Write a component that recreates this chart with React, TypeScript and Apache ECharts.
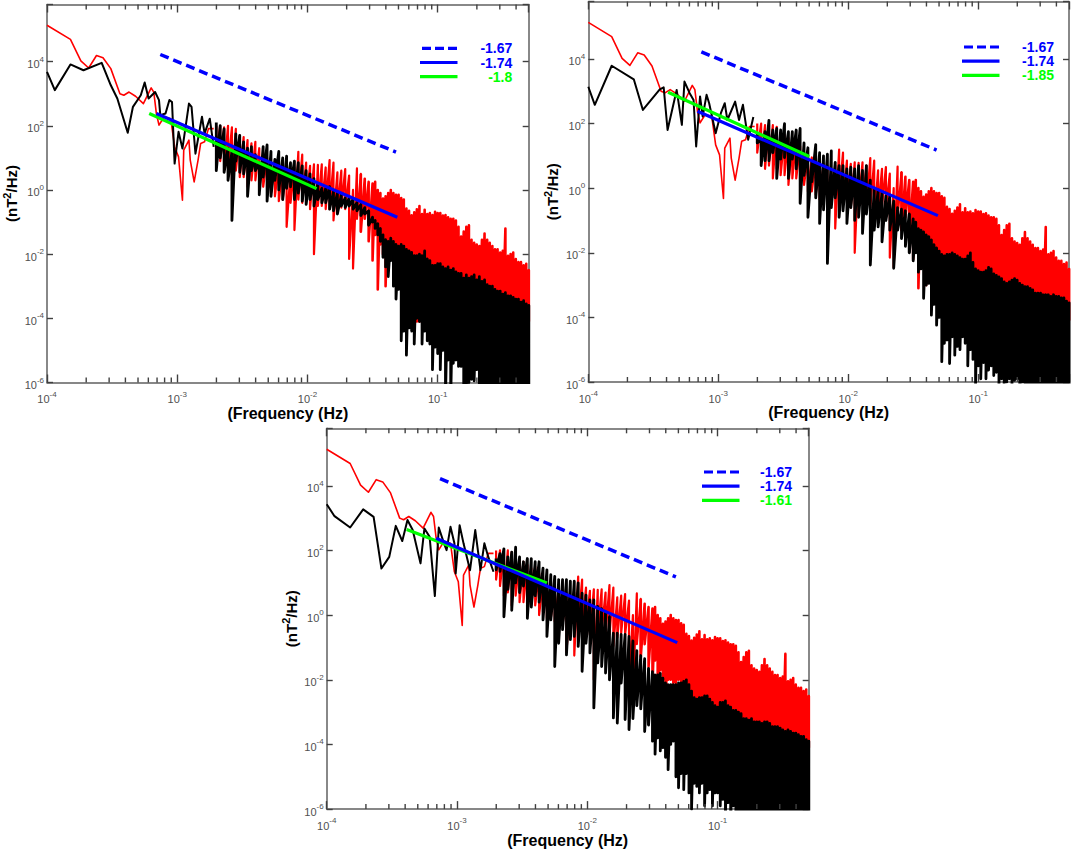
import React, { useEffect, useRef } from 'react';
import * as echarts from 'echarts';

// all spectrum values are log10: log10(Hz) and log10(nT^2/Hz)
const redLowF = [-4, -3.82, -3.74, -3.68, -3.62, -3.57, -3.51, -3.44, -3.41, -3.37, -3.32, -3.26, -3.2, -3.18, -3.16, -3.14, -3.1, -3.05, -3.02, -2.99, -2.96, -2.95, -2.91, -2.9, -2.87, -2.84, -2.82, -2.79, -2.76, -2.72];
const redLowP = [5.13, 4.69, 4.02, 3.8, 4.19, 4.12, 3.78, 3.0, 2.95, 3.05, 2.92, 2.69, 3.18, 3.05, 2.38, 2.02, 2.28, 2.22, 1.34, 1.03, -0.32, 1.24, 1.55, 0.93, 0.25, 0.93, 1.45, 1.5, 1.91, 1.91];

const blackLowF1 = [-4, -3.94, -3.82, -3.72, -3.58, -3.51, -3.46, -3.38, -3.34, -3.28, -3.25, -3.22, -3.17, -3.14, -3.13, -3.09, -3.06, -3.04, -3.02, -2.99, -2.96, -2.91, -2.89, -2.86, -2.81, -2.79, -2.75, -2.72];
const blackLowP1 = [3.68, 3.11, 3.91, 3.73, 3.96, 3.26, 2.85, 1.78, 2.59, 2.95, 3.35, 2.85, 3.05, 2.8, 2.33, 2.38, 2.8, 2.74, 0.82, 1.81, 1.29, 2.69, 2.59, 1.13, 2.28, 1.76, 2.22, 1.34];
const blackLowF2 = [-4, -3.95, -3.82, -3.65, -3.58, -3.45, -3.42, -3.39, -3.32, -3.28, -3.26, -3.22, -3.19, -3.17, -3.14, -3.12, -3.09, -3.07, -3.02, -2.98, -2.95, -2.93, -2.87, -2.84, -2.81, -2.77, -2.73];
const blackLowP2 = [3.14, 2.58, 3.79, 3.37, 2.42, 3.06, 3.12, 1.8, 3.04, 1.96, 3.3, 2.94, 2.73, 1.29, 2.84, 2.22, 2.89, 2.63, 1.7, 2.32, 2.63, 2.11, 2.68, 2.11, 2.58, 1.5, 2.2];
const blackLowF3 = [-4, -3.94, -3.82, -3.72, -3.64, -3.58, -3.52, -3.47, -3.42, -3.38, -3.34, -3.28, -3.25, -3.21, -3.17, -3.14, -3.1, -3.08, -3.05, -3.02, -3.01, -2.98, -2.95, -2.9, -2.86, -2.82, -2.79, -2.76, -2.72];
const blackLowP3 = [3.43, 3.06, 2.71, 3.27, 3.04, 1.44, 1.8, 2.76, 2.29, 2.94, 2.63, 1.6, 2.68, 2.42, 0.59, 2.71, 2.22, 2.01, 2.73, 2.22, 1.29, 2.78, 2.22, 1.39, 2.63, 1.39, 2.22, 1.8, 1.34];

// frequency columns of the dense part of the spectra
const denseF = [
  -2.7, -2.67, -2.64, -2.61, -2.58, -2.55, -2.52, -2.49, -2.46, -2.43, -2.4, -2.37, -2.34, -2.31, -2.28, -2.25, -2.22, -2.19, -2.16, -2.13,
  -2.1, -2.07, -2.04, -2.01, -1.98, -1.95, -1.92, -1.89, -1.86, -1.83, -1.8, -1.77, -1.74, -1.71, -1.68, -1.65, -1.62, -1.59, -1.56, -1.53,
  -1.5, -1.48, -1.46, -1.44, -1.42, -1.4, -1.38, -1.36, -1.34, -1.32, -1.3, -1.28, -1.26, -1.24, -1.22, -1.2, -1.18, -1.16, -1.14, -1.12,
  -1.1, -1.08, -1.06, -1.04, -1.02, -1, -0.98, -0.96, -0.94, -0.92, -0.9, -0.88, -0.86, -0.84, -0.82, -0.8, -0.78, -0.76, -0.74, -0.72,
  -0.7, -0.68, -0.66, -0.64, -0.62, -0.6, -0.58, -0.56, -0.54, -0.52, -0.5, -0.48, -0.46, -0.44, -0.42, -0.4, -0.38, -0.36, -0.34, -0.32, -0.3,
];

const redTop = [
  2.0, 2.0, 1.95, 2.0, 1.95, 1.9, 1.7, 1.65, 1.55, 1.45, 1.5, 1.3, 1.1, 1.0, 0.95, 0.9, 0.8, 0.75, 0.7, 0.55,
  0.7, 1.19, 1.1, 0.85, 0.75, 0.8, 0.78, 0.8, 0.7, 0.93, 0.85, 0.55, 0.6, 0.65, 0.45, 0.0, 0.67, 0.5, 0.35, 0.25,
  0.2, 0.25, 0.0, -0.1, -0.27, -0.2, -0.1, 0.0, -0.1, -0.15, -0.15, -0.25, -0.3, -0.58, -0.65, -0.79, -0.7, -0.6, -0.5, -0.75,
  -0.62, -0.75, -0.72, -0.78, -0.68, -0.72, -0.72, -0.8, -0.78, -0.85, -0.9, -0.9, -0.95, -1.15, -1.45, -1.3, -1.15, -1.1, -1.55, -1.65,
  -1.7, -1.75, -1.55, -1.36, -1.55, -1.65, -1.75, -1.85, -1.85, -1.95, -1.9, -1.2, -2.05, -2.0, -1.95, -2.15, -2.25, -2.25, -2.35, -2.3, -2.5,
];
// beyond this list the lower edge of the red trace is hidden behind the black one
const redBottom = [
  1.1, 0.9, 0.6, 0.7, 0.3, 0.6, 0.4, 0.4, 0.1, 0.3, 0.3, 0.0, 0.1, -0.1, -0.1, -0.2, -0.35, -0.3, -1.15, -0.4,
  -1.25, -0.3, -0.4, -0.3, -0.6, -2.0, -0.5, -0.5, -0.6, -0.6, -0.95, -0.7, -0.55, -0.6, -2.15, -2.45, -0.9, -1.3, -0.9, -1.6,
  -2.2, -1.4, -3.1, -1.7, -2.0, -3.0, -2.0, -2.0, -2.1, -2.1, -2.0, -2.2, -2.4,
];
const redHidden = -4.1;

const blackTop1 = [
  2.1, 2.0, 1.9, 1.3, 1.2, 1.75, 1.7, 1.5, 1.3, 1.35, 1.1, 0.85, 1.35, 1.4, 1.2, 0.95, 1.2, 1.0, 1.05, 0.85,
  0.9, 0.85, 0.75, 0.6, 0.5, 0.35, 0.2, 0.05, 0.05, 0.1, -0.05, -0.1, -0.15, -0.25, -0.25, -0.3, -0.4, -0.45, -0.55, -0.65,
  -0.85, -0.95, -1.05, -1.2, -1.4, -1.55, -1.6, -1.5, -1.6, -1.7, -1.75, -1.7, -1.75, -1.85, -1.9, -1.95, -2.05, -2.05, -2.0, -2.05,
  -1.9, -2.15, -2.2, -2.35, -2.35, -2.3, -2.3, -2.4, -2.45, -2.4, -2.5, -2.45, -2.55, -2.6, -2.6, -2.75, -2.65, -2.75, -2.7, -2.65,
  -2.8, -2.7, -2.85, -2.8, -2.95, -3.0, -3.0, -3.1, -3.15, -3.15, -3.25, -3.2, -3.3, -3.3, -3.35, -3.4, -3.4, -3.5, -3.45, -3.55, -3.6,
];
const blackBottom1 = [
  0.6, 1.0, 0.55, 0.3, -0.95, 0.9, 0.55, 0.5, -0.2, 0.6, 0.6, -0.15, 0.4, -0.35, -0.2, 0.3, 0.0, -0.3, 0.05, 0.1,
  -0.3, -0.1, -0.35, -0.45, -0.3, -0.5, -0.3, -0.4, -0.4, -0.6, -0.65, -0.75, -0.5, -0.55, -0.5, -0.6, -0.65, -0.8, -0.75, -1.1,
  -1.0, -1.2, -1.4, -1.6, -2.1, -2.4, -2.7, -2.2, -3.0, -3.4, -3.1, -4.7, -4.4, -5.15, -4.3, -4.4, -4.8, -4.0, -4.1, -4.8,
  -4.4, -4.7, -4.8, -5.6, -4.9, -5.1, -5.6, -5.0, -6.5, -5.3, -6.5, -5.4, -5.3, -5.5, -5.5, -6.1, -6.2, -6.0, -5.9, -5.95,
  -5.6, -6.1,
];

const blackTop2 = [
  1.7, 1.5, 1.75, 2.1, 1.8, 1.85, 1.8, 2.0, 1.75, 1.75, 1.8, 1.85, 1.4, 1.25, 0.8, 1.35, 1.1, 1.0, 1.05, 1.15,
  0.8, 0.7, 0.7, 0.6, 0.65, 0.6, 0.7, 0.55, 0.7, 0.25, 0.0, -0.05, -0.15, -0.25, -0.25, -0.4, -0.6, -0.65, -0.7, -0.8,
  -0.95, -1.05, -1.25, -1.3, -1.35, -1.45, -1.5, -1.6, -1.75, -1.85, -1.95, -2.05, -2.1, -2.05, -2.05, -2.0, -2.05, -2.1, -2.15, -2.2,
  -2.2, -2.1, -2.0, -2.3, -2.5, -2.55, -2.6, -2.6, -2.55, -2.45, -2.5, -2.65, -2.7, -2.75, -2.8, -2.9, -2.95, -2.9, -2.85, -2.8,
  -2.85, -2.95, -3.0, -3.05, -3.05, -3.1, -3.15, -3.25, -3.25, -3.25, -3.3, -3.3, -3.3, -3.35, -3.3, -3.35, -3.35, -3.4, -3.4, -3.5, -3.55,
];
const blackBottom2 = [
  1.4, 0.7, 0.85, 0.85, 1.1, 0.3, 0.9, 0.95, 0.3, 0.9, 0.6, -0.47, 0.4, -0.9, 0.2, -0.3, -1.09, -0.67, -2.33, -0.6,
  -0.3, -0.9, -0.7, -1.09, -0.6, -1.0, -0.9, -1.4, -0.8, -2.38, -1.3, -1.2, -1.66, -1.0, -1.3, -2.48, -1.3, -1.56, -1.8, -2.0,
  -2.25, -2.0, -2.6, -2.5, -3.41, -3.0, -2.95, -3.93, -3.6, -4.24, -4.0, -5.37, -4.8, -4.7, -5.43, -4.6, -5.17, -4.9, -5.0, -4.6,
  -4.8, -5.5, -5.0, -5.3, -6.05, -5.5, -5.9, -5.4, -5.9, -5.63, -5.5, -5.8, -5.7, -6.1, -5.9, -6.1, -6.0, -5.9, -6.1, -5.95,
  -5.9, -6.5, -6.0,
];

const blackTop3 = [
  1.75, 1.9, 2.05, 1.8, 1.95, 2.1, 1.8, 1.65, 1.75, 1.75, 1.65, 1.65, 1.45, 1.4, 1.25, 1.2, 1.1, 1.1, 1.1, 1.05,
  1.05, 1.0, 0.68, 0.62, 0.47, 0.47, 0.27, 0.2, 0.1, -0.05, -0.56, -0.56, -0.6, -0.6, -0.66, -0.8, -1.1, -1.25, -1.35, -1.65,
  -1.75, -1.85, -1.85, -1.8, -1.95, -2.1, -2.15, -2.15, -2.15, -2.15, -2.1, -2.1, -2.05, -2.0, -2.15, -2.35, -2.55, -2.6, -2.55, -2.55,
  -2.5, -2.5, -2.6, -2.7, -2.8, -2.85, -2.7, -2.7, -2.65, -2.8, -2.85, -2.95, -2.95, -3.0, -3.05, -3.2, -3.2, -3.25, -3.2, -3.3,
  -3.3, -3.3, -3.35, -3.3, -3.3, -3.35, -3.45, -3.45, -3.45, -3.5, -3.55, -3.6, -3.55, -3.6, -3.65, -3.65, -3.7, -3.75, -3.75, -3.85, -3.9,
];
const blackBottom3 = [
  1.4, 1.35, -0.05, 0.8, 0.15, 1.0, 0.7, 0.9, -0.1, 0.25, 0.6, 0.4, -0.15, -0.66, -0.15, -1.59, -0.87, -0.45, -1.23, -0.76,
  -0.66, -0.97, -1.74, -0.87, -1.17, -2.87, -1.48, -1.59, -1.79, -2.0, -3.18, -3.34, -2.1, -3.23, -3.54, -3.2, -2.8, -2.9, -3.6, -3.4,
  -3.9, -4.3, -3.8, -4.2, -4.1, -4.4, -4.78, -4.0, -3.9, -5.0, -5.34, -4.9, -5.4, -4.9, -5.5, -6.0, -5.2, -5.3, -5.5, -5.2,
  -5.9, -5.5, -5.4, -5.9, -5.5, -5.5, -5.9, -5.7, -6.2, -5.8, -6.5, -5.9, -6.5, -6.1,
];
const blackFloor = -6.5; // below the axis, so the trace runs off the plot

// fitted lines: [log10 f, log10 P]
const dashedFit = [[-3.13, 4.22], [-1.32, 1.18]];
const blueFit = [[-3.16, 2.38], [-1.31, -0.85]];
const greenFit1 = [[-3.215, 2.38], [-1.93, 0.04]];
const greenFit2 = [[-3.386, 2.97], [-2.3, 0.98]];
const greenFit3 = [[-3.386, 2.65], [-2.31, 0.99]];

const slopeBlueDash = '-1.67';
const slopeBlue = '-1.74';
const slopeGreen = ['-1.8', '-1.85', '-1.61'];

const majorTicksX = [1e-4, 1e-3, 1e-2, 1e-1];
const minorTickFactors = [2, 3, 4, 5, 6, 7, 8, 9];

const panels = [
  { left: 46.7, top: 4.5, width: 482, height: 378, legendX: 420, legendY: 48.3, textX: 512.3, lowF: blackLowF1, lowP: blackLowP1, top_: blackTop1, bottom: blackBottom1, green: greenFit1, greenOnTop: false },
  { left: 588.3, top: 1.5, width: 482.5, height: 380.5, legendX: 962, legendY: 47, textX: 1054, lowF: blackLowF2, lowP: blackLowP2, top_: blackTop2, bottom: blackBottom2, green: greenFit2, greenOnTop: true },
  { left: 326.7, top: 428.3, width: 482, height: 381.7, legendX: 702, legendY: 472, textX: 792, lowF: blackLowF3, lowP: blackLowP3, top_: blackTop3, bottom: blackBottom3, green: greenFit3, greenOnTop: false },
];

const RED = '#ff0000';
const BLUE = '#0000ff';
const GREEN = '#00ff00';
const AXIS = '#404040';
const FONT = '"Liberation Sans", Arial, sans-serif';

const toPts = (f: number[], p: number[]) => f.map((v, i) => [10 ** v, 10 ** p[i]]);
const fitPts = (line: number[][]) => line.map(([f, p]) => [10 ** f, 10 ** p]);

// zigzags top-bottom through the columns so one line paints the whole band
const denseLine = (top: number[], bottom: number[], floor: number, from: number, to: number) => {
  const pts: number[][] = [];
  for (let i = from; i < to; i++) {
    pts.push([10 ** denseF[i], 10 ** top[i]]);
    pts.push([10 ** denseF[i], 10 ** (bottom[i] ?? floor)]);
  }
  return pts;
};

const expLabel = (value: number) => {
  const e = Math.log10(value);
  if (Math.abs(e - Math.round(e)) > 1e-6) return '';
  return `{b|10}{s|${Math.round(e)}}`;
};

const labelRich = {
  b: { fontSize: 11, fontFamily: FONT, color: '#505050', padding: [5, 0, 0, 0] },
  s: { fontSize: 8, fontFamily: FONT, color: '#505050', padding: [0, 0, 5, 0] },
};

const minorTicks: number[] = [];
majorTicksX.forEach((d) => {
  minorTickFactors.forEach((m) => {
    if (d * m < 0.5) minorTicks.push(d * m);
  });
});

const buildOption = () => {
  const grid: any[] = [];
  const xAxis: any[] = [];
  const yAxis: any[] = [];
  const series: any[] = [];
  const graphic: any[] = [];

  panels.forEach((p, n) => {
    const xBottom = n * 2;
    const yLeft = n * 2;
    grid.push({ left: p.left, top: p.top, width: p.width, height: p.height, containLabel: false });

    const xBase = {
      type: 'log',
      logBase: 10,
      min: 1e-4,
      max: 0.5,
      gridIndex: n,
      axisLine: { show: true, onZero: false, lineStyle: { color: '#606060', width: 1.5 } },
      axisTick: { show: true, inside: true, length: 8, lineStyle: { color: AXIS, width: 1.4 } },
      splitLine: { show: false },
      minorTick: { show: false },
      minorSplitLine: { show: false },
    };
    xAxis.push({
      ...xBase,
      position: 'bottom',
      name: '(Frequency (Hz)',
      nameLocation: 'middle',
      nameGap: 20,
      nameTextStyle: { fontFamily: FONT, fontSize: 16, fontWeight: 'bold', color: '#000' },
      axisLabel: { show: true, margin: 6, formatter: expLabel, rich: labelRich, hideOverlap: false, showMinLabel: true },
    });
    xAxis.push({ ...xBase, position: 'top', axisLabel: { show: false } });

    const yBase = {
      type: 'log',
      logBase: 10,
      min: 1e-6,
      max: 6e5,
      interval: 2,
      gridIndex: n,
      axisLine: { show: true, onZero: false, lineStyle: { color: '#606060', width: 1.5 } },
      axisTick: { show: true, inside: true, length: 6, lineStyle: { color: AXIS, width: 1.4 } },
      splitLine: { show: false },
      minorTick: { show: false },
      minorSplitLine: { show: false },
    };
    yAxis.push({
      ...yBase,
      position: 'left',
      name: '{n|(nT}{u|2}{n|/Hz)}',
      nameLocation: 'middle',
      nameGap: 28,
      nameRotate: 90,
      nameTextStyle: {
        rich: {
          n: { fontFamily: FONT, fontSize: 15, fontWeight: 'bold', color: '#000', padding: [4, 0, 0, 0] },
          u: { fontFamily: FONT, fontSize: 11, fontWeight: 'bold', color: '#000', padding: [0, 0, 6, 0] },
        },
      },
      axisLabel: { show: true, margin: 3, formatter: expLabel, rich: labelRich, hideOverlap: false },
    });
    yAxis.push({ ...yBase, position: 'right', axisLabel: { show: false } });

    const on = { xAxisIndex: xBottom, yAxisIndex: yLeft, symbol: 'none', silent: true, animation: false, z: 2 };
    const line = (data: number[][], color: string, width: number, extra: any = {}) => ({
      ...on,
      type: 'line',
      data,
      showSymbol: false,
      connectNulls: false,
      lineStyle: { color, width, join: 'round', ...extra },
    });

    series.push(line(toPts(redLowF, redLowP), RED, 1.6));
    series.push(line(denseLine(redTop, redBottom, redHidden, 0, 38), RED, 2.2));
    series.push(line(denseLine(redTop, redBottom, redHidden, 37, denseF.length), RED, 2.6));
    series.push(line(toPts(p.lowF, p.lowP), '#000', 2));
    series.push(line(denseLine(p.top_, p.bottom, blackFloor, 0, 40), '#000', 2.8));
    series.push(line(denseLine(p.top_, p.bottom, blackFloor, 39, denseF.length), '#000', 2.8));
    series.push(line(fitPts(dashedFit), BLUE, 3.5, { type: [9, 5] }));
    if (!p.greenOnTop) series.push(line(fitPts(p.green), GREEN, 3.2));
    series.push(line(fitPts(blueFit), BLUE, 3.2));
    if (p.greenOnTop) series.push(line(fitPts(p.green), GREEN, 3.2));

    series.push({
      type: 'custom',
      xAxisIndex: xBottom,
      yAxisIndex: yLeft,
      silent: true,
      clip: false,
      z: 3,
      data: minorTicks.map((f) => [f, 1e-6]),
      encode: { x: 0, y: 1 },
      renderItem: (_: any, api: any) => {
        const [x, bottom] = api.coord([api.value(0), 1e-6]);
        const [, top] = api.coord([api.value(0), 6e5]);
        const style = { stroke: AXIS, lineWidth: 1.4 };
        return {
          type: 'group',
          children: [
            { type: 'line', shape: { x1: x, y1: bottom, x2: x, y2: bottom - 5 }, style },
            { type: 'line', shape: { x1: x, y1: top, x2: x, y2: top + 5 }, style },
          ],
        };
      },
    });

    const rows = [
      { color: BLUE, text: slopeBlueDash, dash: [9, 4], x0: 2 },
      { color: BLUE, text: slopeBlue, dash: null, x0: 0 },
      { color: GREEN, text: slopeGreen[n], dash: null, x0: 0 },
    ];
    rows.forEach((r, i) => {
      const y = p.legendY + i * 14.2;
      graphic.push({
        type: 'line',
        silent: true,
        shape: { x1: p.legendX + r.x0, y1: y, x2: p.legendX + 37.5, y2: y },
        style: { stroke: r.color, lineWidth: 3.2, lineDash: r.dash || undefined },
      });
      graphic.push({
        type: 'text',
        silent: true,
        style: {
          text: r.text,
          x: p.textX,
          y: y,
          fill: r.color,
          font: `bold 14px ${FONT}`,
          align: 'right',
          verticalAlign: 'middle',
        },
      });
    });
  });

  return { animation: false, backgroundColor: '#fff', grid, xAxis, yAxis, series, graphic };
};

const App: React.FC = () => {
  const chartRef = useRef<HTMLDivElement>(null);

  useEffect(() => {
    if (!chartRef.current) return;
    document.body.style.margin = '0';
    const chart = echarts.init(chartRef.current, null, { renderer: 'svg' });
    chart.setOption(buildOption() as any);
    return () => {
      chart.dispose();
    };
  }, []);

  return <div ref={chartRef} style={{ width: 1072, height: 849 }} />;
};

export default App;
